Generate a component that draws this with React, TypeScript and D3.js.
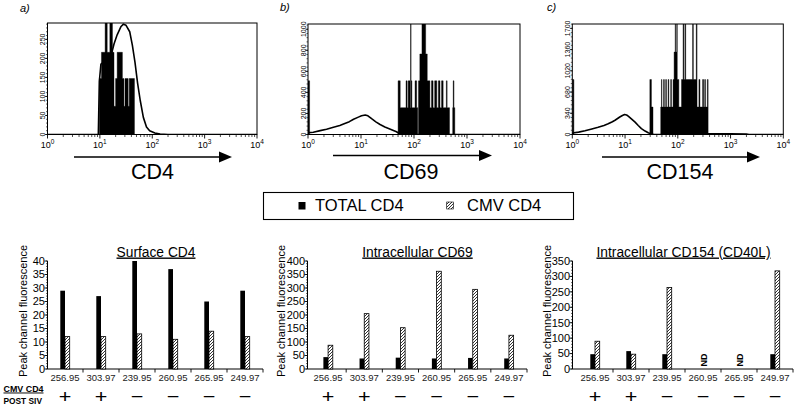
import React from "react";
import * as d3 from "d3";

const FONT = '"Liberation Sans", Arial, Helvetica, sans-serif';

// ---------------- data: flow cytometry histograms ----------------
const histTags = ["a)", "b)", "c)"];
const histMarkers = ["CD4", "CD69", "CD154"];
const histDecades = [0, 1, 2, 3, 4];
const histYTicksA = [0, 50, 100, 150, 200, 250];
const histYTicksB = [0, 200, 400, 600, 800, 1000];
const histYTicksC = [0, 340, 680, 1020, 1360, 1700];
const histYMaxA = 293;
const histYMaxB = 1050;
const histYMaxC = 1770;

// open (total CD4) curves: [log10 intensity, events]
const curveA: [number, number][] = [
  [0, 0], [0.97, 0], [0.99, 140], [1.02, 185], [1.07, 190], [1.13, 182], [1.2, 200],
  [1.27, 238], [1.33, 262], [1.4, 283], [1.45, 290], [1.5, 287], [1.57, 270], [1.62, 235],
  [1.67, 190], [1.72, 135], [1.77, 90], [1.83, 45], [1.89, 20], [1.95, 10], [2.05, 4],
  [2.15, 1], [2.3, 0], [4, 0],
];
const curveB: [number, number][] = [
  [0, 0], [0.005, 18], [0.1, 22], [0.23, 37], [0.35, 50], [0.48, 68], [0.6, 85], [0.67, 99],
  [0.78, 122], [0.86, 145], [0.95, 165], [1.01, 178], [1.08, 186], [1.13, 178], [1.2, 150],
  [1.28, 120], [1.36, 95], [1.45, 72], [1.52, 57], [1.6, 40], [1.67, 26], [1.72, 8],
  [1.76, 0], [4, 0],
];
const curveC: [number, number][] = [
  [0, 0], [0.005, 25], [0.12, 38], [0.24, 60], [0.37, 88], [0.49, 115], [0.6, 145],
  [0.68, 172], [0.76, 205], [0.81, 228], [0.9, 280], [0.95, 305], [0.99, 320], [1.03, 312],
  [1.06, 295], [1.12, 250], [1.19, 198], [1.25, 145], [1.31, 95], [1.38, 55], [1.44, 27],
  [1.5, 6], [1.55, 0], [2.55, 0], [2.58, 12], [3.0, 11], [3.3, 8], [3.35, 0], [4, 0],
];

// filled (CMV CD4) histograms: [log10 start, log10 end, events]
const spikesA: [number, number, number][] = [
  [0.99, 1.03, 147], [1.03, 1.1, 216], [1.1, 1.14, 300], [1.14, 1.19, 216], [1.19, 1.24, 300],
  [1.24, 1.27, 216], [1.27, 1.3, 74], [1.3, 1.33, 147], [1.33, 1.43, 216], [1.43, 1.46, 147],
  [1.46, 1.48, 74], [1.48, 1.54, 147], [1.54, 1.56, 74], [1.56, 1.66, 147],
];
const spikesB: [number, number, number][] = [
  [0, 0.03, 510], [1.7, 1.74, 510], [1.74, 1.85, 255], [1.85, 1.87, 510], [1.87, 1.89, 255],
  [1.89, 1.925, 510], [1.925, 1.935, 255], [1.935, 1.945, 1100], [1.945, 1.96, 510],
  [1.96, 2.02, 255], [2.02, 2.05, 510], [2.05, 2.07, 255], [2.085, 2.11, 510],
  [2.11, 2.15, 765], [2.15, 2.22, 1100], [2.22, 2.25, 765], [2.25, 2.3, 510], [2.3, 2.33, 255],
  [2.33, 2.36, 510], [2.36, 2.39, 255], [2.39, 2.43, 510], [2.43, 2.46, 255], [2.46, 2.49, 510],
  [2.49, 2.52, 255], [2.52, 2.55, 510], [2.55, 2.61, 255], [2.61, 2.625, 510], [2.625, 2.67, 255],
  [2.73, 2.74, 255], [2.74, 2.755, 510], [2.755, 2.77, 255],
];
const spikesC: [number, number, number][] = [
  [0, 0.03, 880], [1.47, 1.5, 880], [1.5, 1.53, 440], [1.676, 1.69, 440], [1.69, 1.7, 880],
  [1.7, 1.73, 440], [1.73, 1.745, 880], [1.745, 1.77, 440], [1.77, 1.785, 880],
  [1.785, 1.815, 440], [1.815, 1.83, 880], [1.83, 1.865, 440], [1.865, 1.88, 880],
  [1.88, 1.91, 440], [1.91, 1.93, 880], [1.93, 1.95, 1320], [1.95, 1.96, 1800],
  [1.96, 1.98, 1320], [1.98, 1.99, 1800], [1.99, 2.02, 880], [2.02, 2.07, 440],
  [2.07, 2.1, 880], [2.1, 2.115, 1800], [2.115, 2.135, 880], [2.135, 2.15, 1800],
  [2.15, 2.28, 880], [2.28, 2.295, 1800], [2.295, 2.35, 880], [2.35, 2.365, 1800],
  [2.365, 2.4, 440], [2.4, 2.42, 880], [2.42, 2.47, 440], [2.47, 2.49, 880], [2.49, 2.51, 440],
  [2.51, 2.525, 880], [2.525, 2.56, 440], [2.56, 2.575, 880],
];

// ---------------- data: bar charts ----------------
const legendLabels = ["TOTAL CD4", "CMV CD4"];
const barCategories = ["256.95", "303.97", "239.95", "260.95", "265.95", "249.97"];
const cmvPostSiv = ["+", "+", "\u2212", "\u2212", "\u2212", "\u2212"];
const rowLabels = ["CMV CD4", "POST SIV"];
const yAxisTitle = "Peak channel fluorescence";

const barTitles = ["Surface CD4", "Intracellular CD69", "Intracellular CD154 (CD40L)"];
const surfaceTotal = [29, 27, 40, 37, 25, 29];
const surfaceCmv = [12, 12, 13, 11, 14, 12];
const cd69Total = [44, 39, 42, 39, 41, 39];
const cd69Cmv = [88, 205, 153, 362, 295, 125];
const cd154Total: (number | null)[] = [48, 58, 48, null, null, 48];
const cd154Cmv: (number | null)[] = [90, 48, 264, null, null, 318];
const surfaceTicks = [0, 5, 10, 15, 20, 25, 30, 35, 40];
const cd69Ticks = [0, 50, 100, 150, 200, 250, 300, 350, 400];
const cd154Ticks = [0, 50, 100, 150, 200, 250, 300, 350];
const notDone = "ND";

type HistProps = {
  fx0: number; fx1: number; fy0: number; fy1: number;
  yMax: number; yTicks: number[]; curve: [number, number][]; spikes: [number, number, number][];
  tag: string; tagX: number; tagY: number; marker: string; markerX: number;
  arrowX0: number; arrowX1: number; arrowY: number; clipId: string;
};

// turn [start,end,value] columns into step points (zero between separated columns)
function stepPoints(spikes: [number, number, number][]): [number, number][] {
  const s = [...spikes].sort((a, b) => a[0] - b[0]);
  const pts: [number, number][] = [];
  s.forEach((seg, i) => {
    pts.push([seg[0], seg[2]]);
    const next = s[i + 1];
    if (!next || next[0] > seg[1] + 1e-6) pts.push([seg[1], 0]);
  });
  return pts;
}

function Histogram(p: HistProps) {
  const x = d3.scaleLog().domain([1, 1e4]).range([p.fx0, p.fx1]);
  const y = d3.scaleLinear().domain([0, p.yMax]).range([p.fy1, p.fy0]);
  const line = d3
    .line<[number, number]>()
    .x((d) => x(Math.pow(10, d[0])))
    .y((d) => y(Math.min(d[1], p.yMax)));
  const area = d3
    .area<[number, number]>()
    .curve(d3.curveStepAfter)
    .x((d) => x(Math.pow(10, d[0])))
    .y0(p.fy1)
    .y1((d) => y(Math.min(d[1], p.yMax + 10)));
  const minorX: number[] = [];
  for (let k = 0; k < 4; k++) for (let m = 2; m < 10; m++) minorX.push(m * Math.pow(10, k));
  const step = p.yTicks[1] - p.yTicks[0];
  const minorY: number[] = [];
  for (let v = 0; v <= p.yMax; v += step / 5) minorY.push(v);
  return (
    <g>
      <defs>
        <clipPath id={p.clipId}>
          <rect x={p.fx0} y={p.fy0} width={p.fx1 - p.fx0} height={p.fy1 - p.fy0} />
        </clipPath>
      </defs>
      <text x={p.tagX} y={p.tagY} fontSize={11} fontStyle="italic" fontFamily={FONT}>{p.tag}</text>
      <g clipPath={`url(#${p.clipId})`}>
        <path d={area(stepPoints(p.spikes)) || ""} fill="#000" stroke="#000" strokeWidth={0.4} />
        <path d={line(p.curve) || ""} fill="none" stroke="#000" strokeWidth={1.6} strokeLinejoin="round" />
      </g>
      <rect x={p.fx0} y={p.fy0} width={p.fx1 - p.fx0} height={p.fy1 - p.fy0} fill="none" stroke="#000" strokeWidth={1} />
      {minorX.map((v, i) => (
        <line key={"mx" + i} x1={x(v)} x2={x(v)} y1={p.fy1} y2={p.fy1 + 2.5} stroke="#000" strokeWidth={0.7} />
      ))}
      {histDecades.map((k) => (
        <g key={"dx" + k}>
          <line x1={x(Math.pow(10, k))} x2={x(Math.pow(10, k))} y1={p.fy1} y2={p.fy1 + 4} stroke="#000" strokeWidth={0.9} />
          <text x={x(Math.pow(10, k))} y={148} textAnchor="middle" fontSize={9} fontFamily={FONT}>
            <tspan>10</tspan>
            <tspan dy={-4.5} fontSize={6.5}>{k}</tspan>
          </text>
        </g>
      ))}
      {minorY.map((v, i) => (
        <line key={"my" + i} x1={p.fx0 - 1.5} x2={p.fx0} y1={y(v)} y2={y(v)} stroke="#000" strokeWidth={0.6} />
      ))}
      {p.yTicks.map((v) => (
        <g key={"yt" + v}>
          <line x1={p.fx0 - 2.5} x2={p.fx0} y1={y(v)} y2={y(v)} stroke="#000" strokeWidth={0.8} />
          <text transform={`translate(${p.fx0 - 2.2},${y(v)}) rotate(-90)`} textAnchor="middle" fontSize={7} fontFamily={FONT}>
            {v}
          </text>
        </g>
      ))}
      <line x1={p.arrowX0} x2={p.arrowX1 - 10} y1={p.arrowY} y2={p.arrowY} stroke="#000" strokeWidth={1.4} />
      <path d={`M${p.arrowX1 - 13},${p.arrowY - 5.5} L${p.arrowX1},${p.arrowY} L${p.arrowX1 - 13},${p.arrowY + 5.5} Z`} fill="#000" />
      <text x={p.markerX} y={179} textAnchor="middle" fontSize={21.5} fontFamily={FONT}>{p.marker}</text>
    </g>
  );
}

type BarProps = {
  axisX: number; r0: number; r1: number; yMax: number; yTicks: number[];
  total: (number | null)[]; cmv: (number | null)[]; title: string; titleX: number; yLabelX: number;
};

const Y0 = 369;
const Y1 = 261;

function BarPanel(p: BarProps) {
  const y = d3.scaleLinear().domain([0, p.yMax]).range([Y0, Y1]);
  const xb = d3.scaleBand().domain(barCategories).range([p.r0, p.r1]);
  const bw = 4.7;
  const step = p.yTicks[1] - p.yTicks[0];
  const minor: number[] = [];
  for (let v = 0; v <= p.yMax + 1e-6; v += step / 5) minor.push(v);
  return (
    <g fontFamily={FONT}>
      <text x={p.titleX} y={256.5} textAnchor="middle" fontSize={13.8} style={{ textDecoration: "underline" }}>
        {p.title}
      </text>
      <text transform={`translate(${p.yLabelX},311) rotate(-90)`} textAnchor="middle" fontSize={11}>
        {yAxisTitle}
      </text>
      <line x1={p.axisX} x2={p.axisX} y1={Y1} y2={Y0} stroke="#000" strokeWidth={1} />
      {minor.map((v, i) => (
        <line key={"m" + i} x1={p.axisX - 1.5} x2={p.axisX} y1={y(v)} y2={y(v)} stroke="#000" strokeWidth={0.6} />
      ))}
      {p.yTicks.map((v) => (
        <g key={v}>
          <line x1={p.axisX - 3} x2={p.axisX} y1={y(v)} y2={y(v)} stroke="#000" strokeWidth={0.9} />
          <text x={p.axisX - 2.5} y={y(v) + 3.9} textAnchor="end" fontSize={11}>{v}</text>
        </g>
      ))}
      <line x1={p.axisX} x2={p.r1} y1={Y0} y2={Y0} stroke="#000" strokeWidth={1} />
      {barCategories.map((c, i) => {
        const x0 = xb(c) as number;
        const cx = x0 + xb.bandwidth() / 2;
        const t = p.total[i];
        const m = p.cmv[i];
        return (
          <g key={c}>
            <line x1={x0 + xb.bandwidth()} x2={x0 + xb.bandwidth()} y1={Y0} y2={Y0 + 3.5} stroke="#000" strokeWidth={0.9} />
            {t != null && <rect x={cx - bw} y={y(t)} width={bw} height={Y0 - y(t)} fill="#000" />}
            {m != null && (
              <rect x={cx} y={y(m)} width={bw} height={Y0 - y(m)} fill="url(#hatch)" stroke="#000" strokeWidth={0.8} />
            )}
            {t == null && (
              <text transform={`translate(${cx + 3.5},360) rotate(-90)`} textAnchor="middle" fontSize={9} fontWeight="bold">
                {notDone}
              </text>
            )}
            <text x={cx} y={380.5} textAnchor="middle" fontSize={9.5} fill="#222">{c}</text>
            <text transform={`translate(${cx},402.5) scale(1.35,1.15)`} textAnchor="middle" fontSize={16}>
              {cmvPostSiv[i]}
            </text>
          </g>
        );
      })}
    </g>
  );
}

export default function App() {
  return (
    <svg width={800} height={407} viewBox="0 0 800 407" style={{ position: "absolute", left: 0, top: 0, background: "#fff" }}>
      <defs>
        <pattern id="hatch" patternUnits="userSpaceOnUse" width={3} height={3}>
          <rect width={3} height={3} fill="#fff" />
          <path d="M-1,1 L1,-1 M0,3 L3,0 M2,4 L4,2" stroke="#000" strokeWidth={0.8} />
        </pattern>
      </defs>
      <rect width={800} height={407} fill="#fff" />

      <Histogram fx0={47.5} fx1={257} fy0={23} fy1={134.5} yMax={histYMaxA} yTicks={histYTicksA}
        curve={curveA} spikes={spikesA} tag={histTags[0]} tagX={20} tagY={12} marker={histMarkers[0]}
        markerX={152.5} arrowX0={74} arrowX1={232} arrowY={157} clipId="ca" />
      <Histogram fx0={308} fx1={520} fy0={24} fy1={134.5} yMax={histYMaxB} yTicks={histYTicksB}
        curve={curveB} spikes={spikesB} tag={histTags[1]} tagX={280} tagY={11} marker={histMarkers[1]}
        markerX={411} arrowX0={333} arrowX1={492} arrowY={155.5} clipId="cb" />
      <Histogram fx0={572.3} fx1={783.3} fy0={24} fy1={134.5} yMax={histYMaxC} yTicks={histYTicksC}
        curve={curveC} spikes={spikesC} tag={histTags[2]} tagX={547} tagY={11} marker={histMarkers[2]}
        markerX={680} arrowX0={602} arrowX1={760} arrowY={157} clipId="cc" />

      {/* legend */}
      <g fontFamily={FONT}>
        <rect x={263.5} y={192.5} width={310} height={27} fill="#fff" stroke="#000" strokeWidth={1.1} />
        <rect x={298.5} y={202} width={7} height={7.5} fill="#000" />
        <text x={315} y={211.3} fontSize={16.5}>{legendLabels[0]}</text>
        <rect x={446.7} y={202} width={6.8} height={7} fill="url(#hatch)" stroke="#000" strokeWidth={0.6} />
        <text x={467} y={211.3} fontSize={16.5}>{legendLabels[1]}</text>
      </g>

      <BarPanel axisX={47.5} r0={47} r1={263} yMax={40} yTicks={surfaceTicks} total={surfaceTotal}
        cmv={surfaceCmv} title={barTitles[0]} titleX={156} yLabelX={27} />
      <BarPanel axisX={307.5} r0={310} r1={527} yMax={400} yTicks={cd69Ticks} total={cd69Total}
        cmv={cd69Cmv} title={barTitles[1]} titleX={417.5} yLabelX={285} />
      <BarPanel axisX={572.5} r0={577} r1={793} yMax={350} yTicks={cd154Ticks} total={cd154Total}
        cmv={cd154Cmv} title={barTitles[2]} titleX={683.5} yLabelX={550.5} />

      <g fontFamily={FONT} fontWeight="bold" fontSize={9.5}>
        <text x={3.5} y={391.5} textLength={40} lengthAdjust="spacingAndGlyphs" style={{ textDecoration: "underline" }}>
          {rowLabels[0]}
        </text>
        <text x={3.5} y={404.3} textLength={38.5} lengthAdjust="spacingAndGlyphs">{rowLabels[1]}</text>
      </g>
    </svg>
  );
}
